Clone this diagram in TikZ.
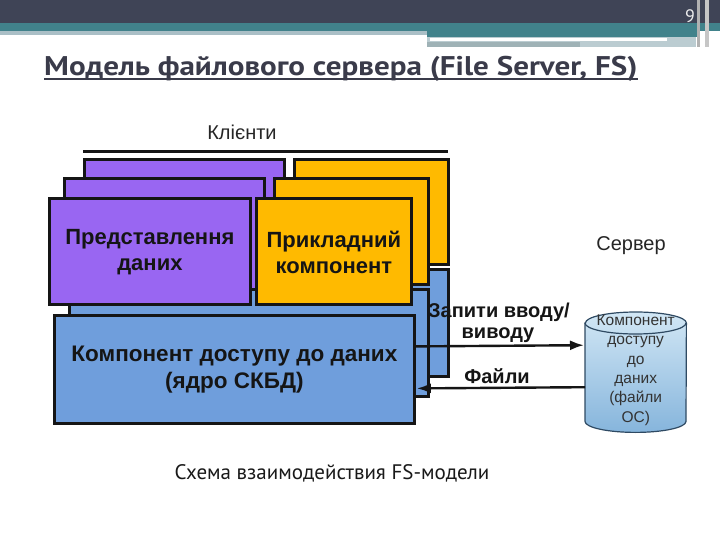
\documentclass[tikz,border=0pt]{standalone}
\usepackage{fontspec}
\setmainfont{Liberation Sans}
\newfontfamily\ptsans{PT Sans}
\newfontfamily\titlefont[FakeStretch=1.15]{PT Sans Bold}
\usetikzlibrary{arrows.meta,calc}
\definecolor{hdark}{HTML}{3F4456}
\definecolor{hteal}{HTML}{41828B}
\definecolor{hlight}{HTML}{AABFC6}
\definecolor{hgray}{HTML}{9FB2B6}
\definecolor{titlec}{HTML}{3A3B4A}
\definecolor{purp}{HTML}{9966F2}
\definecolor{oran}{HTML}{FFBA00}
\definecolor{blu}{HTML}{6F9EDC}
\definecolor{edge}{HTML}{151515}
\definecolor{cyltop}{HTML}{D2E7F5}
\definecolor{cylbot}{HTML}{86B5DC}
\definecolor{cyledge}{HTML}{2F4A63}
\begin{document}
\begin{tikzpicture}[x=1pt,y=-1pt,
  card/.style={draw=edge, line width=2.8pt, inner sep=0pt, anchor=north west},
  boldlbl/.style={font=\bfseries\fontsize{22}{26}\selectfont, text=edge, align=center},
  plainlbl/.style={font=\fontsize{20}{24}\selectfont, text=black!85},
  arrlbl/.style={font=\bfseries\fontsize{20}{24}\selectfont, text=edge},
  arr/.style={-{Latex[length=14pt,width=10pt]}, line width=2.4pt, draw=edge}]
\useasboundingbox (0,0) rectangle (720,540);
\fill[white] (0,0) rectangle (720,540);
% header
\fill[hdark] (0,0) rectangle (720,23);
\fill[hteal] (0,23) rectangle (720,31);
\fill[hlight] (0,31) rectangle (427,35);
\fill[hteal] (427,31) rectangle (698,37);
\fill[hlight!80] (427,37) rectangle (696,47);
\fill[white] (430,38) rectangle (667,41);
\fill[hgray] (427,42) rectangle (580,47);
\fill[gray!60] (697,0) rectangle (700,47);
\fill[gray!45] (705,0) rectangle (709,47);
\node[font=\ptsans\fontsize{18}{20}\selectfont, text=white!85!gray, anchor=base] (pg) at (690,23) {9};
% title
\node[font=\titlefont\fontsize{27}{32}\selectfont, text=titlec, anchor=base west, inner sep=0pt] (title) at (44,76) {Модель файлового сервера (File Server, FS)};
\draw[titlec, line width=2pt] ($(title.base west)+(0,3.5)$) -- ($(title.base east)+(0,3.5)$);
% clients label and line
\node[plainlbl] (kl) at (242,132) {Клієнти};
\node[inner sep=0pt, minimum width=365pt, minimum height=0pt, anchor=west] (kline) at (83,152) {};
\draw[line width=3pt, draw=edge] (kline.west) -- (kline.east);
% back layer
\node[card, fill=purp, minimum width=200pt, minimum height=135pt] (p1) at (83,158) {};
\node[card, fill=oran, minimum width=154pt, minimum height=105pt] (o1) at (293,158) {};
\node[card, fill=blu, minimum width=364pt, minimum height=107pt] (b1) at (83,268) {};
% middle layer
\node[card, fill=purp, minimum width=200pt, minimum height=120pt] (p2) at (63,177) {};
\node[card, fill=oran, minimum width=154pt, minimum height=106pt] (o2) at (273,177) {};
\node[card, fill=blu, minimum width=359pt, minimum height=107pt] (b2) at (68,288) {};
% front layer
\node[card, fill=purp, minimum width=201pt, minimum height=106pt] (p3) at (48,197) {};
\node[card, fill=oran, minimum width=155pt, minimum height=106pt] (o3) at (255,197) {};
\node[card, fill=blu, minimum width=360pt, minimum height=108pt] (b3) at (53,314) {};
\node[boldlbl] (tp) at ($(p3.center)+(0,1)$) {Представлення\\даних};
\node[boldlbl] (to) at ($(o3.center)+(0,1)$) {Прикладний\\компонент};
\node[boldlbl, font=\bfseries\fontsize{22.5}{27}\selectfont] (tb) at (b3.center) {Компонент доступу до даних\\(ядро СКБД)};
% server
\node[plainlbl] (srv) at (631,246) {Сервер};
\node[inner sep=0pt, minimum width=101pt, minimum height=120pt, anchor=north west] (db) at (585,312) {};
\path[top color=cyltop, bottom color=cylbot, draw=cyledge, line width=1.2pt]
  ($(db.north west)+(0,11)$) -- ($(db.south west)+(0,-11)$)
  arc[start angle=180, end angle=360, x radius=50.5pt, y radius=11pt]
  -- ($(db.north east)+(0,11)$)
  arc[start angle=0, end angle=180, x radius=50.5pt, y radius=11pt] -- cycle;
\draw[draw=cyledge, line width=1.2pt] ($(db.north west)+(0,11)$)
  arc[start angle=180, end angle=360, x radius=50.5pt, y radius=11pt];
\node[font=\fontsize{15.5}{19.3}\selectfont, text=black!80, align=center] (dbt) at ($(db.center)+(0,-2)$) {Компонент\\доступу\\до\\даних\\(файли\\ОС)};
% arrows
\draw[arr] ($(b3.east)+(0,-23)$) -- ($(db.west)+(-1,-27)$);
\draw[arr] ($(db.west)+(0,15)$) -- ($(b3.east)+(1,19)$);
\node[arrlbl] (q1) at (499,312) {Запити вводу/};
\node[arrlbl] (q2) at (498,335) {виводу};
\node[arrlbl] (q3) at (497,376) {Файли};
% caption
\node[font=\ptsans\fontsize{21}{24}\selectfont, text=black!90, anchor=base] (cap) at (332,479) {Схема взаимодействия FS-модели};
\end{tikzpicture}
\end{document}
